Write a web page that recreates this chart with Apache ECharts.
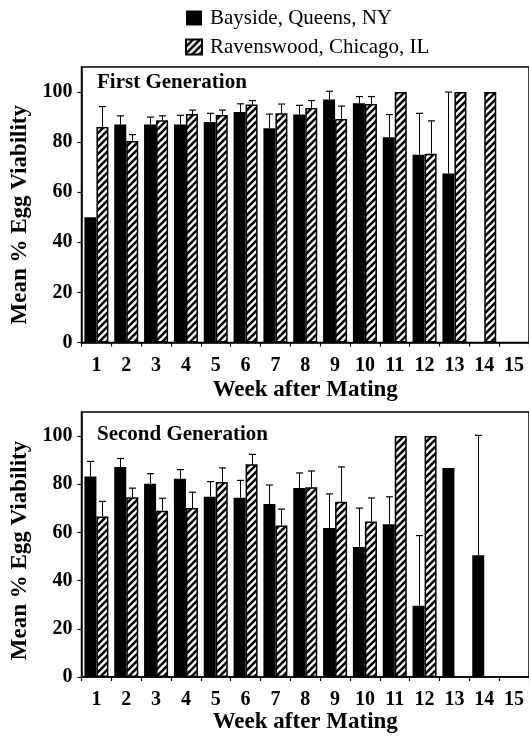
<!DOCTYPE html>
<html>
<head>
<meta charset="utf-8">
<script src="https://cdn.jsdelivr.net/npm/echarts@6/dist/echarts.min.js"></script>
<style>
html,body{margin:0;padding:0;background:#fff;}
#chart{width:529px;height:741px;}
</style>
</head>
<body>
<div id="chart"></div>
<script>
// ---- data ----
const weeks = ['1','2','3','4','5','6','7','8','9','10','11','12','13','14','15'];
const seriesNames = ['Bayside, Queens, NY', 'Ravenswood, Chicago, IL'];
const panelTitles = ['First Generation', 'Second Generation'];
const yTicks = [0, 20, 40, 60, 80, 100];

const gen1Bayside    = [50, 87, 87, 87, 88, 92, 85.5, 91, 97, 95.5, 82, 75, 67.5, null, null];
const gen1BaysideErr = [null, 90.5, 90, 90.7, 91.5, 95.3, 91.2, 94.7, 100.3, 98.2, 91, 91.5, 100, null, null];
const gen1Ravens     = [86, 80.5, 88.7, 91.2, 90.8, 95, 91.5, 93.6, 89.2, 95.2, 100, 75.4, 100, 100, null];
const gen1RavensErr  = [94.2, 83, 90.5, 92.8, 92.8, 96.6, 95.2, 96.6, 94.4, 98.2, null, 88.5, null, null, null];

const gen2Bayside    = [83.2, 87.2, 80.2, 82.3, 74.8, 74.4, 71.8, 78.5, 61.8, 54, 63.4, 29.6, 86.8, 50.5, null];
const gen2BaysideErr = [89.5, 90.7, 84.4, 86.1, 81.1, 81.6, 79.7, 84.7, 76, 70.1, 74.8, 58.7, null, 100.3, null];
const gen2Ravens     = [66.6, 74.6, 69, 70.1, 80.9, 88.3, 62.9, 78.8, 72.7, 64.5, 100, 100, null, null, null];
const gen2RavensErr  = [72.9, 78.4, 74.2, 76.7, 86.8, 92.4, 69.7, 85.5, 87.2, 74.3, null, null, null, null, null];

// ---- styles ----
const SERIF = '"Liberation Serif", "Times New Roman", serif';
const BAR_W = 12;

function makeHatch() {
  const s = 7;
  const c = document.createElement('canvas');
  c.width = s; c.height = s;
  const ctx = c.getContext('2d');
  ctx.fillStyle = '#fff';
  ctx.fillRect(0, 0, s, s);
  ctx.strokeStyle = '#000';
  ctx.lineWidth = 2.6;
  ctx.beginPath();
  ctx.moveTo(-1, s + 1); ctx.lineTo(s + 1, -1);
  ctx.moveTo(-1, 1); ctx.lineTo(1, -1);
  ctx.moveTo(s - 1, s + 1); ctx.lineTo(s + 1, s - 1);
  ctx.stroke();
  return c;
}
const hatch = { image: makeHatch(), repeat: 'repeat' };

function errData(vals, tops) {
  const out = [];
  vals.forEach((v, i) => {
    if (v != null && tops[i] != null) out.push([i, v, tops[i]]);
  });
  return out;
}

function errRender(sign) {
  return function (params, api) {
    const i = api.value(0), v = api.value(1), t = api.value(2);
    const p0 = api.coord([i, v]);
    const p1 = api.coord([i, t]);
    const cx = Math.round(p0[0] + sign * BAR_W / 2) + 0.5;
    return {
      type: 'group',
      children: [
        { type: 'line', shape: { x1: cx, y1: p0[1], x2: cx, y2: p1[1] }, style: { stroke: '#000', lineWidth: 1 } },
        { type: 'line', shape: { x1: cx - 3.5, y1: p1[1], x2: cx + 3.5, y2: p1[1] }, style: { stroke: '#000', lineWidth: 1.2 } }
      ]
    };
  };
}

const grids = [
  { left: 81.5, top: 67, width: 451, height: 275.5 },
  { left: 81.5, top: 412, width: 451, height: 265 }
];

function xAxis(idx) {
  return {
    type: 'category', gridIndex: idx, data: weeks,
    name: 'Week after Mating', nameLocation: 'middle', nameGap: idx === 0 ? 36 : 34,
    nameTextStyle: { fontFamily: SERIF, fontWeight: 'bold', fontSize: 23, color: '#000' },
    axisLine: { lineStyle: { color: '#000', width: 1.5 } },
    axisTick: { show: true, length: 4, lineStyle: { color: '#000', width: 1.2 } },
    axisLabel: { fontFamily: SERIF, fontWeight: 'bold', fontSize: 20, color: '#000', margin: 13 },
    splitLine: { show: false }
  };
}
function yAxis(idx) {
  return {
    type: 'value', gridIndex: idx, min: 0, max: 110, interval: 20,
    name: 'Mean % Egg Viability', nameLocation: 'middle', nameGap: 50, nameRotate: 90,
    nameTextStyle: { fontFamily: SERIF, fontWeight: 'bold', fontSize: 23, color: '#000',
      padding: idx === 0 ? [0, 20, 0, 0] : [0, 12, 0, 0] },
    axisLine: { show: true, lineStyle: { color: '#000', width: 1.5 } },
    axisTick: { show: true, length: 4, lineStyle: { color: '#000', width: 1.2 } },
    axisLabel: {
      fontFamily: SERIF, fontWeight: 'bold', fontSize: 20, color: '#000', margin: 9,
      showMaxLabel: false,
      formatter: v => (yTicks.indexOf(v) >= 0 ? String(v) : '')
    },
    splitLine: { show: false }
  };
}

function barSeries(name, data, idx, hatched) {
  return {
    name: name, type: 'bar', xAxisIndex: idx, yAxisIndex: idx, data: data,
    barWidth: BAR_W, barGap: '0%',
    itemStyle: hatched
      ? { color: hatch, borderColor: '#000', borderWidth: 1.5 }
      : { color: '#000', borderColor: '#000', borderWidth: 0 },
    emphasis: { disabled: true }
  };
}
function errSeries(name, vals, tops, idx, sign) {
  return {
    name: name, type: 'custom', xAxisIndex: idx, yAxisIndex: idx,
    renderItem: errRender(sign), data: errData(vals, tops), z: 5, silent: true
  };
}

const option = {
  animation: false,
  backgroundColor: '#fff',
  grid: grids.map(g => Object.assign({ show: true, borderColor: '#000', borderWidth: 1.5, backgroundColor: 'transparent' }, g)),
  title: [
    { text: panelTitles[0], left: 97, top: 72, padding: 0,
      textStyle: { fontFamily: SERIF, fontWeight: 'bold', fontSize: 21, color: '#000', lineHeight: 22 } },
    { text: panelTitles[1], left: 97, top: 424, padding: 0,
      textStyle: { fontFamily: SERIF, fontWeight: 'bold', fontSize: 21, color: '#000', lineHeight: 22 } }
  ],
  legend: {
    data: seriesNames.map(n => ({ name: n, icon: 'rect' })),
    orient: 'vertical', left: 185, top: 7,
    itemWidth: 16, itemHeight: 15, itemGap: 7, padding: 0,
    selectedMode: false,
    textStyle: { fontFamily: SERIF, fontSize: 21, lineHeight: 22, color: '#000', padding: [0, 0, 0, 3] }
  },
  xAxis: [xAxis(0), xAxis(1)],
  yAxis: [yAxis(0), yAxis(1)],
  series: [
    barSeries(seriesNames[0], gen1Bayside, 0, false),
    barSeries(seriesNames[1], gen1Ravens, 0, true),
    errSeries(seriesNames[0], gen1Bayside, gen1BaysideErr, 0, -1),
    errSeries(seriesNames[1], gen1Ravens, gen1RavensErr, 0, 1),
    barSeries(seriesNames[0], gen2Bayside, 1, false),
    barSeries(seriesNames[1], gen2Ravens, 1, true),
    errSeries(seriesNames[0], gen2Bayside, gen2BaysideErr, 1, -1),
    errSeries(seriesNames[1], gen2Ravens, gen2RavensErr, 1, 1)
  ]
};

const chart = echarts.init(document.getElementById('chart'), null, { renderer: 'canvas' });
chart.setOption(option);
</script>
</body>
</html>
